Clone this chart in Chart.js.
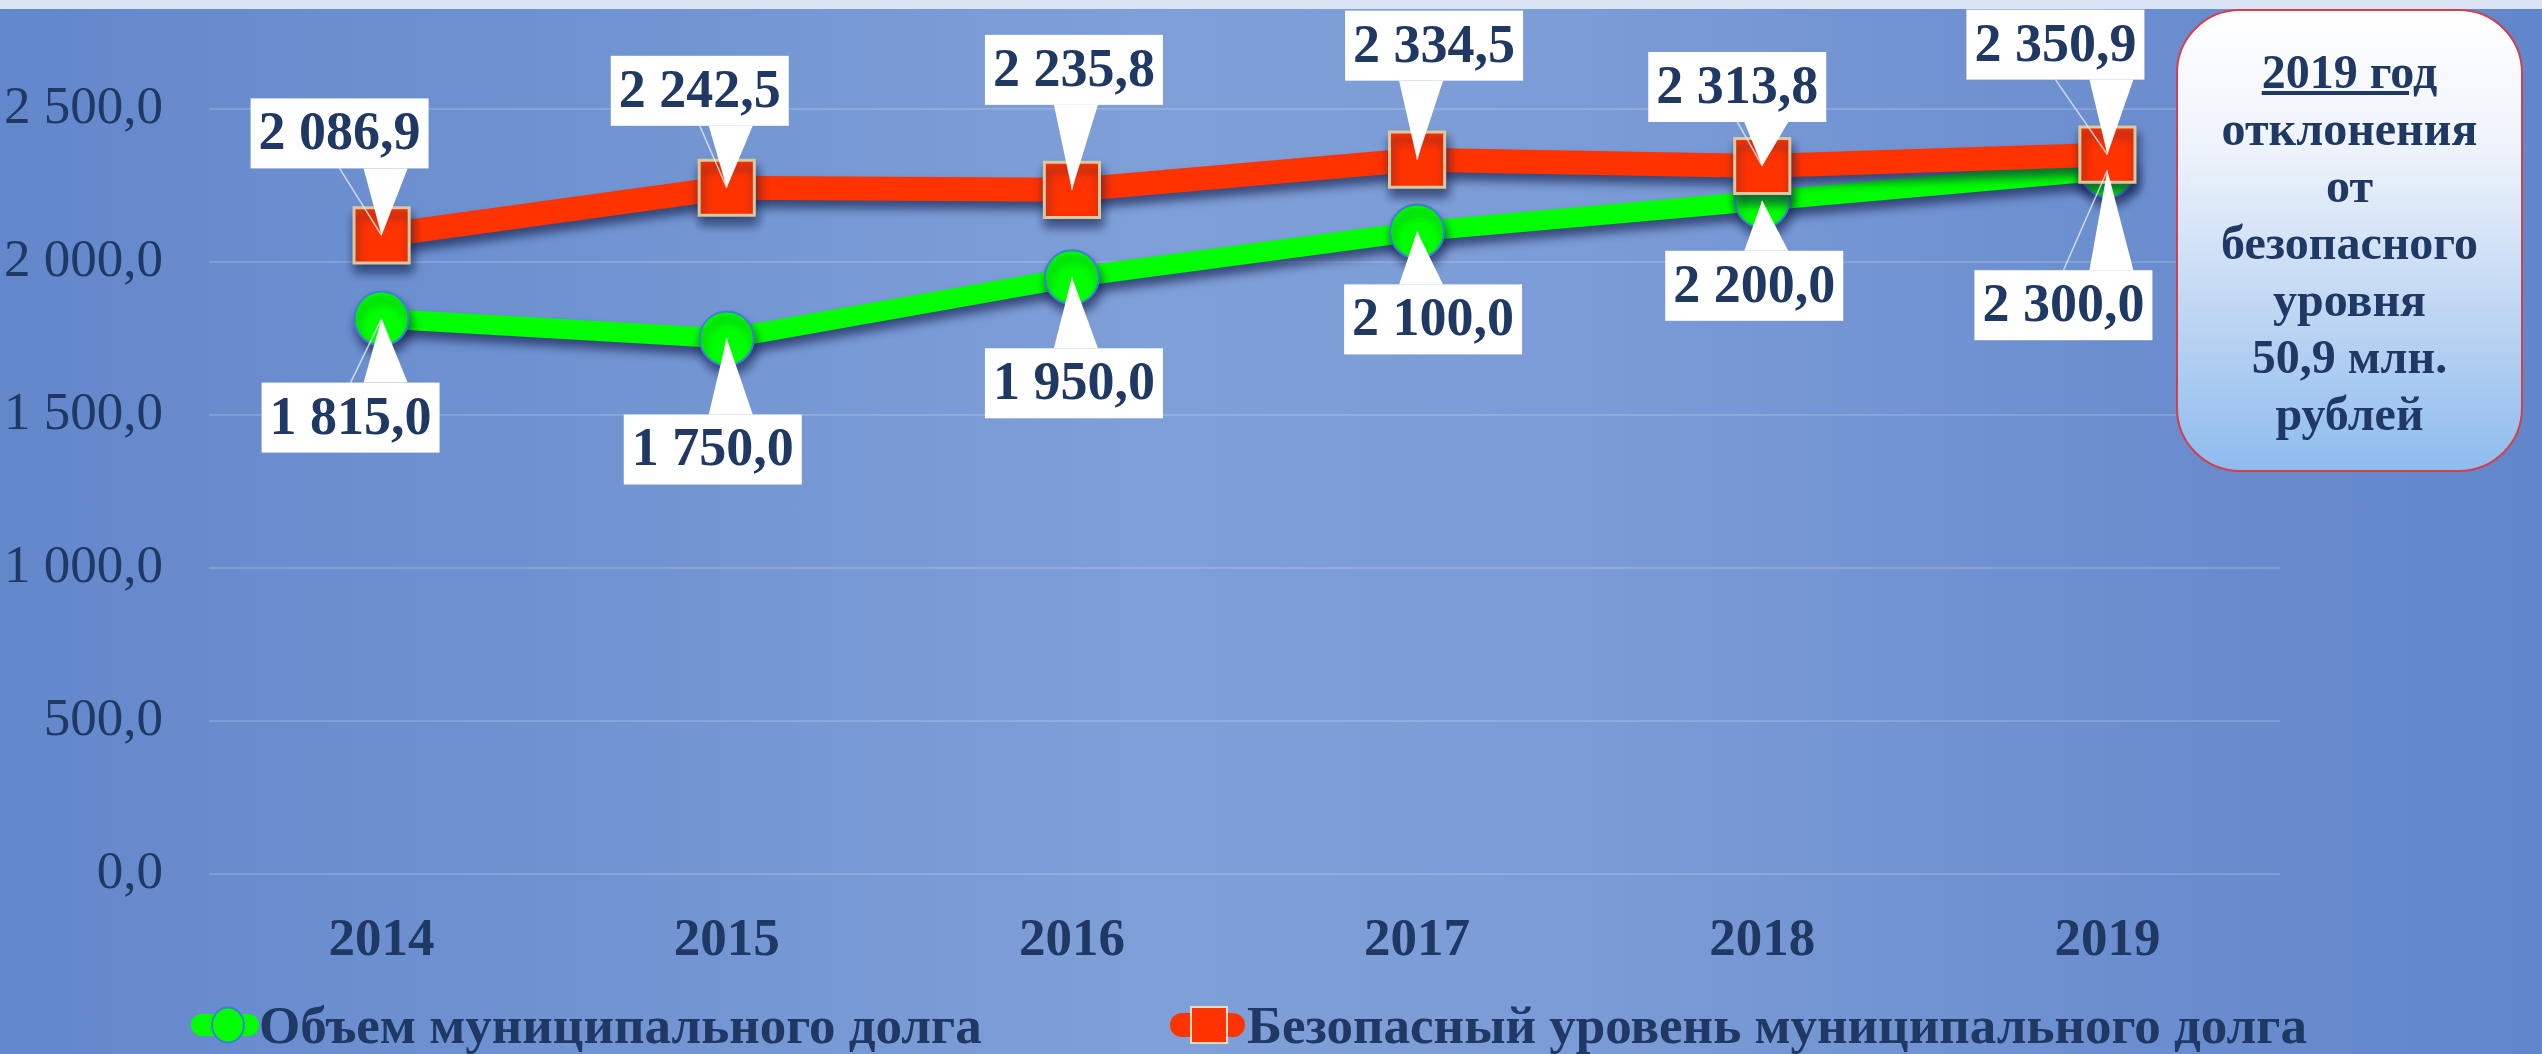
<!DOCTYPE html>
<html><head><meta charset="utf-8">
<script src="https://cdn.jsdelivr.net/npm/chart.js@4/dist/chart.umd.min.js"></script>
<style>
html,body{margin:0;padding:0;}
body{width:2542px;height:1054px;overflow:hidden;position:relative;
background:linear-gradient(to right,#6387cb 0%,#6f93d1 22%,#7f9fd8 45%,#7b9cd6 62%,#6a8dcf 85%,#6286cb 100%);}
#strip{position:absolute;left:0;top:0;width:2542px;height:9px;background:#dbe4f4;}
#c{position:absolute;left:0;top:0;}
#info{position:absolute;left:2176px;top:9px;width:343px;height:459px;border:2px solid #d2404c;border-radius:64px;
background:linear-gradient(to bottom,#ffffff 0%,#eef3fb 30%,#b9d3f2 70%,#8ebcee 100%);
font-family:"Liberation Serif","Times New Roman",serif;font-weight:bold;font-size:48px;line-height:57px;color:#1f3864;
text-align:center;box-sizing:content-box;padding-top:32px;height:427px;}
</style></head>
<body>
<div id="strip"></div>
<canvas id="c" width="2542" height="1054"></canvas>
<div id="info"><u>2019 год</u><br>отклонения<br>от<br>безопасного<br>уровня<br>50,9 млн.<br>рублей</div>
<script>
// ---- data ----
const categories = ['2014','2015','2016','2017','2018','2019'];
const debtVolume = [1815.0, 1750.0, 1950.0, 2100.0, 2200.0, 2300.0];
const safeLevel  = [2086.9, 2242.5, 2235.8, 2334.5, 2313.8, 2350.9];
const seriesNames = ['Объем муниципального долга', 'Безопасный уровень муниципального долга'];
const yMin = 0, yMax = 2500, yStep = 500;

// ---- label placement styles (dx from point, gap from point) ----
const debtLabelOffsets = [[-31,64],[-14,76],[2,71],[16,53],[-8,50],[-44,100]];
const safeLabelOffsets = [[-42,67],[-27,62],[2,85],[17,79],[-25,44],[-52,75]];

const NAVY = '#1f3864';
const GREEN = '#00ff00', RED = '#ff3300';
const SERIF = '"Liberation Serif","Times New Roman",serif';

function fmt(v){
  const s = Number(v).toFixed(1);
  let [i,d] = s.split('.');
  i = i.replace(/\B(?=(\d{3})+(?!\d))/g,' ');
  return i + ',' + d;
}

const shadowPlugin = {
  id:'shadow',
  beforeDatasetDraw(chart){
    const ctx = chart.ctx; ctx.save();
    ctx.shadowColor='rgba(20,30,75,0.65)'; ctx.shadowBlur=10; ctx.shadowOffsetX=2; ctx.shadowOffsetY=8;
  },
  afterDatasetDraw(chart){ chart.ctx.restore(); }
};

const calloutPlugin = {
  id:'callouts',
  afterDatasetsDraw(chart){
    const ctx = chart.ctx;
    const specs = [[0, debtLabelOffsets, 1],[1, safeLabelOffsets, -1]];
    ctx.save();
    ctx.font = 'bold 54px ' + SERIF;
    for (const [di, offs, dir] of specs){
      const meta = chart.getDatasetMeta(di);
      const data = chart.data.datasets[di].data;
      meta.data.forEach((pt, k) => {
        const txt = fmt(data[k]);
        const tw = ctx.measureText(txt).width;
        const bw = tw + 16, bh = 70;
        const cx = pt.x + offs[k][0];
        const edgeY = pt.y + dir*offs[k][1];
        const top = dir > 0 ? edgeY : edgeY - bh;
        const left = cx - bw/2;
        ctx.strokeStyle = 'rgba(225,230,240,0.85)'; ctx.lineWidth = 1.5;
        ctx.beginPath(); ctx.moveTo(cx, edgeY); ctx.lineTo(pt.x, pt.y); ctx.stroke();
        const bx = Math.min(Math.max(pt.x + 4, left + 24), left + bw - 24);
        ctx.fillStyle = '#ffffff';
        ctx.beginPath();
        ctx.moveTo(bx - 22, edgeY); ctx.lineTo(bx + 22, edgeY); ctx.lineTo(pt.x, pt.y); ctx.closePath(); ctx.fill();
        ctx.fillRect(left, top, bw, bh);
        ctx.fillStyle = NAVY; ctx.textAlign='center'; ctx.textBaseline='middle';
        ctx.fillText(txt, cx, top + bh/2 + 2);
      });
    }
    ctx.restore();
  }
};

const legendPlugin = {
  id:'customLegend',
  afterDraw(chart){
    const ctx = chart.ctx;
    ctx.save();
    const y = 1025;
    ctx.fillStyle = GREEN;
    ctx.beginPath(); ctx.roundRect(191, y-11, 68, 22, 11); ctx.fill();
    ctx.beginPath(); ctx.ellipse(228, y, 16, 17.5, 0, 0, Math.PI*2);
    ctx.fillStyle = GREEN; ctx.fill(); ctx.strokeStyle='#3f7fd6'; ctx.lineWidth=2; ctx.stroke();
    ctx.fillStyle = RED;
    ctx.beginPath(); ctx.roundRect(1170, y-12, 75, 24, 12); ctx.fill();
    ctx.fillRect(1191, y-18, 36, 36);
    ctx.strokeStyle='#e8dcc0'; ctx.lineWidth=2; ctx.strokeRect(1191, y-18, 36, 36);
    ctx.font = 'bold 53px ' + SERIF; ctx.fillStyle = NAVY;
    ctx.textAlign='left'; ctx.textBaseline='alphabetic';
    ctx.fillText(chart.data.datasets[0].label, 259, 1043);
    ctx.fillText(chart.data.datasets[1].label, 1247, 1043);
    ctx.restore();
  }
};

new Chart(document.getElementById('c'), {
  type:'line',
  data:{
    labels: categories,
    datasets:[
      { label: seriesNames[0], data: debtVolume, order: 1,
        borderColor: GREEN, backgroundColor: GREEN, borderWidth: 20, tension: 0,
        pointStyle:'circle', pointRadius: 27, pointBackgroundColor: GREEN,
        pointBorderColor:'#3f7fd6', pointBorderWidth: 2, clip:false },
      { label: seriesNames[1], data: safeLevel, order: 0,
        borderColor: RED, backgroundColor: RED, borderWidth: 24, tension: 0,
        pointStyle:'rect', pointRadius: 39, pointBackgroundColor: RED,
        pointBorderColor:'#d8c9a0', pointBorderWidth: 3, clip:false }
    ]
  },
  options:{
    responsive:false, animation:false, devicePixelRatio:1,
    layout:{ padding:{ top:109, right:262, bottom:0, left:0 } },
    plugins:{ legend:{display:false}, tooltip:{enabled:false} },
    scales:{
      x:{
        offset:true,
        grid:{ display:false, drawTicks:false },
        border:{ display:false },
        ticks:{ font:{ family:SERIF, size:53, weight:'bold' }, color:NAVY, padding:36 },
        afterFit(s){ s.height = 180; }
      },
      y:{
        min:yMin, max:yMax,
        ticks:{ stepSize:yStep, font:{ family:SERIF, size:53 }, color:NAVY, padding:46,
                callback:(v)=>fmt(v) },
        grid:{ color:'rgba(255,255,255,0.16)', lineWidth:2, drawTicks:false },
        border:{ display:false },
        afterFit(s){ s.width = 209; }
      }
    }
  },
  plugins:[shadowPlugin, calloutPlugin, legendPlugin]
});
</script>
</body></html>
